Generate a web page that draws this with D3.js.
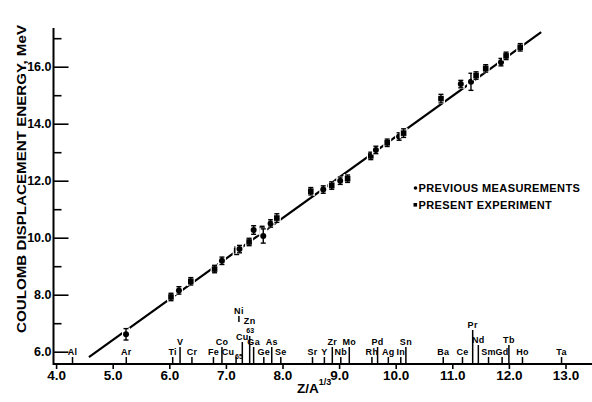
<!DOCTYPE html>
<html>
<head>
<meta charset="utf-8">
<script src="https://cdn.jsdelivr.net/npm/d3@7"></script>
<style>
  body { margin: 0; background: #fff; }
  svg { display: block; font-family: "Liberation Sans", Arial, sans-serif; font-weight: bold; }
</style>
</head>
<body>
<div id="chart"></div>
<script>
// measured points: Z/A^(1/3), displacement energy (MeV), error, source
const pointZA = [5.235, 6.03, 6.17, 6.38, 6.80, 6.93, 7.19, 7.24, 7.41, 7.49, 7.64, 7.66,
  7.79, 7.90, 8.50, 8.72, 8.87, 9.02, 9.15, 9.56, 9.65, 9.85, 10.06, 10.14,
  10.80, 11.15, 11.33, 11.42, 11.59, 11.86, 11.95, 12.20];
const pointEnergy = [6.61, 7.92, 8.15, 8.47, 8.90, 9.19, 9.54, 9.60, 9.85, 10.27, 10.27, 10.06,
  10.50, 10.69, 11.63, 11.69, 11.83, 12.00, 12.07, 12.87, 13.08, 13.33, 13.55, 13.67,
  14.88, 15.39, 15.47, 15.69, 15.94, 16.16, 16.38, 16.68];
const pointError = [0.2, 0.13, 0.13, 0.13, 0.13, 0.13, 0.13, 0.13, 0.13, 0.15, 0.13, 0.25,
  0.13, 0.15, 0.13, 0.13, 0.13, 0.13, 0.13, 0.13, 0.13, 0.13, 0.13, 0.15,
  0.15, 0.13, 0.3, 0.13, 0.13, 0.13, 0.13, 0.13];
const pointSource = ["prev", "present", "prev", "present", "present", "prev", "present", "prev", "present", "prev", "present", "prev",
  "prev", "present", "present", "prev", "present", "prev", "present", "present", "prev", "present", "prev", "present",
  "present", "prev", "prev", "present", "present", "prev", "present", "present"];

// fitted straight line (end points)
const fitZA = [4.58, 12.57];
const fitEnergy = [5.81, 17.21];

// element markers along the x axis
const elemNames = ["Al", "Ar", "Ti", "V", "Cr", "Fe", "Co", "Cu", "Ni", "Cu", "Zn", "Ga", "Ge", "As", "Se",
  "Sr", "Y", "Zr", "Nb", "Mo", "Rh", "Pd", "Ag", "In", "Sn",
  "Ba", "Ce", "Pr", "Nd", "Sm", "Gd", "Tb", "Ho", "Ta"];
const elemMass = ["", "", "", "", "", "", "", "65", "", "63", "", "", "", "", "",
  "", "", "", "", "", "", "", "", "", "",
  "", "", "", "", "", "", "", "", ""];
const elemZA = [4.29, 5.24, 6.06, 6.19, 6.40, 6.78, 6.93, 7.18, 7.23, 7.29, 7.42, 7.49, 7.67, 7.81, 7.97,
  8.53, 8.74, 8.88, 9.03, 9.18, 9.58, 9.68, 9.87, 10.09, 10.18,
  10.84, 11.18, 11.36, 11.46, 11.64, 11.88, 12.00, 12.24, 12.93];

const xTicks = [4, 5, 6, 7, 8, 9, 10, 11, 12, 13];
const yTicks = [6, 8, 10, 12, 14, 16];
const yMinor = [7, 9, 11, 13, 15, 17];

const width = 592, height = 402;
const svg = d3.select("#chart").append("svg")
  .attr("width", width)
  .attr("height", height);

const x = d3.scaleLinear().domain([4, 13]).range([56.1, 565.5]);
const y = d3.scaleLinear().domain([6, 16]).range([351.7, 66.7]);
const axisX = 53.5, axisY = 364;

// axes lines
svg.append("line")
  .attr("x1", axisX).attr("x2", axisX)
  .attr("y1", 28).attr("y2", axisY + 1)
  .attr("stroke", "#000").attr("stroke-width", 2);
svg.append("line")
  .attr("x1", axisX).attr("x2", 592)
  .attr("y1", axisY).attr("y2", axisY)
  .attr("stroke", "#000").attr("stroke-width", 2);

// y axis
const yAxis = svg.append("g")
  .attr("transform", "translate(" + axisX + ",0)")
  .call(d3.axisLeft(y).tickValues(yTicks).tickSize(-15).tickPadding(2).tickFormat(d3.format(".1f")));
yAxis.select(".domain").remove();
yAxis.selectAll("line").attr("stroke-width", 1.6);
yAxis.selectAll("text").attr("font-size", 12.5).attr("font-family", null).attr("font-weight", "bold");

const yAxisMinor = svg.append("g")
  .attr("transform", "translate(" + axisX + ",0)")
  .call(d3.axisLeft(y).tickValues(yMinor).tickSize(-8).tickFormat(""));
yAxisMinor.select(".domain").remove();
yAxisMinor.selectAll("line").attr("stroke-width", 1.6);

// x axis
const xAxis = svg.append("g")
  .attr("transform", "translate(0," + axisY + ")")
  .call(d3.axisBottom(x).tickValues(xTicks).tickSize(5).tickPadding(1).tickFormat(d3.format(".1f")));
xAxis.select(".domain").remove();
xAxis.selectAll("line").attr("stroke-width", 1.6);
xAxis.selectAll("text").attr("font-size", 13.5).attr("font-family", null).attr("font-weight", "bold");

// axis titles
svg.append("text")
  .attr("transform", "translate(26,179) rotate(-90)")
  .attr("text-anchor", "middle")
  .attr("font-size", 13.5)
  .attr("textLength", 308)
  .attr("lengthAdjust", "spacingAndGlyphs")
  .text("COULOMB  DISPLACEMENT ENERGY, MeV");

const xTitle = svg.append("text")
  .attr("x", 297).attr("y", 393)
  .attr("font-size", 13.5);
xTitle.append("tspan").text("Z/A");
xTitle.append("tspan").attr("dy", -8).attr("font-size", 9).text("1/3");

// element ticks and labels
const rows = {
  low: [355, 357, 0],
  high: [345, 347, 0],
  high2: [342.5, 345, 0],
  cu63: [340, 342, 0],
  zn: [324, 336, 0],
  pr: [328, 330, 0],
  ni: [314, 316, 322]
};
const rowOf = {
  V: "high", Co: "high", Ga: "high", As: "high", Zr: "high", Mo: "high", Pd: "high", Sn: "high",
  Nd: "high2", Tb: "high2", Pr: "pr", Ni: "ni", Zn: "zn", Cu63: "cu63"
};
const labelShift = { Cu65: -8 };

const elems = svg.append("g").attr("font-size", 9);
elemNames.forEach(function(name, i) {
  let key = name + elemMass[i];
  let row = rows[rowOf[key] || "low"];
  let px = x(elemZA[i]);
  elems.append("line")
    .attr("x1", px).attr("x2", px)
    .attr("y1", row[1]).attr("y2", row[2] || axisY)
    .attr("stroke", "#000").attr("stroke-width", 1.5);
  let lx = px + (labelShift[key] || 0);
  elems.append("text")
    .attr("x", lx).attr("y", row[0])
    .attr("text-anchor", "middle")
    .attr("letter-spacing", 0.3)
    .text(name);
  if (elemMass[i] == "65") {
    elems.append("text").attr("x", lx + 7).attr("y", row[0] + 4)
      .attr("font-size", 7).text("65");
  } else if (elemMass[i] == "63") {
    elems.append("text").attr("x", px + 4).attr("y", row[0] - 7)
      .attr("font-size", 7).text("63");
  }
});

// fit line
svg.append("line")
  .attr("x1", x(fitZA[0])).attr("y1", y(fitEnergy[0]))
  .attr("x2", x(fitZA[1])).attr("y2", y(fitEnergy[1]))
  .attr("stroke", "#000").attr("stroke-width", 2.2);

// data points
const points = pointZA.map(function(d, i) {
  return { za: d, e: pointEnergy[i], err: pointError[i], src: pointSource[i] };
});

const pts = svg.append("g").selectAll("g")
  .data(points)
  .enter().append("g")
    .attr("transform", function(d) { return "translate(" + x(d.za) + "," + y(d.e) + ")"; });

// white halo that breaks the fit line around each point
pts.append("rect")
  .attr("x", -4).attr("width", 8)
  .attr("y", function(d) { return y(d.e + d.err) - y(d.e) - 1; })
  .attr("height", function(d) { return y(d.e - d.err) - y(d.e + d.err) + 2; })
  .attr("fill", "#fff");

pts.append("line")
  .attr("y1", function(d) { return y(d.e + d.err) - y(d.e); })
  .attr("y2", function(d) { return y(d.e - d.err) - y(d.e); })
  .attr("stroke", "#000").attr("stroke-width", 1.4);
pts.append("line")
  .attr("x1", -2.5).attr("x2", 2.5)
  .attr("y1", function(d) { return y(d.e + d.err) - y(d.e); })
  .attr("y2", function(d) { return y(d.e + d.err) - y(d.e); })
  .attr("stroke", "#000").attr("stroke-width", 1.4);
pts.append("line")
  .attr("x1", -2.5).attr("x2", 2.5)
  .attr("y1", function(d) { return y(d.e - d.err) - y(d.e); })
  .attr("y2", function(d) { return y(d.e - d.err) - y(d.e); })
  .attr("stroke", "#000").attr("stroke-width", 1.4);

pts.filter(function(d) { return d.src == "prev"; })
  .append("circle")
  .attr("r", 3)
  .attr("fill", "#000");
pts.filter(function(d) { return d.src == "present"; })
  .append("rect")
  .attr("x", -2.8).attr("y", -2.8)
  .attr("width", 5.6).attr("height", 5.6)
  .attr("fill", "#000");

// legend
const legend = svg.append("g").attr("font-size", 11).attr("letter-spacing", 0.4);
legend.append("circle").attr("cx", 415.5).attr("cy", 188).attr("r", 1.8).attr("fill", "#000");
legend.append("text").attr("x", 418.5).attr("y", 192).text("PREVIOUS MEASUREMENTS");
legend.append("rect").attr("x", 413.5).attr("y", 203).attr("width", 3.6).attr("height", 3.6).attr("fill", "#000");
legend.append("text").attr("x", 418.5).attr("y", 209).text("PRESENT EXPERIMENT");
</script>
</body>
</html>
